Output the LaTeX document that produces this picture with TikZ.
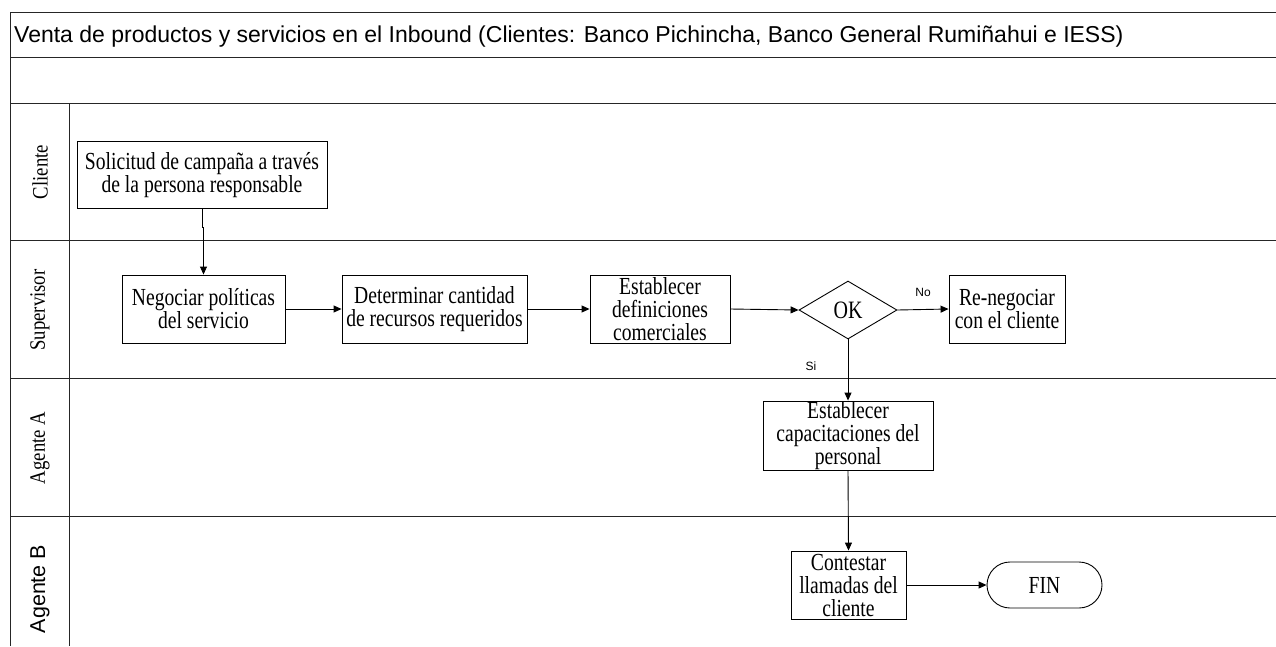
\documentclass[tikz,border=0pt]{standalone}
\usepackage{fontspec}
\setmainfont{Liberation Serif}
\setsansfont{Liberation Sans}
\newfontfamily\boxfont[FakeStretch=0.8]{Liberation Serif}
\newfontfamily\lanefont[FakeStretch=0.85]{Liberation Serif}
\usetikzlibrary{shapes.geometric,arrows.meta}

\begin{document}
\begin{tikzpicture}[x=1pt,y=-1pt,
  lane/.style={line width=1pt,draw=black!85},
  stepbox/.style={draw,line width=0.9pt,align=center,inner sep=0pt,
    font=\boxfont\fontsize{24.5}{23}\selectfont},
  decision/.style={draw,diamond,line width=0.9pt,inner sep=0pt,
    minimum width=98pt,minimum height=58pt,font=\boxfont\fontsize{25}{23}\selectfont},
  terminal/.style={draw,rounded corners=23pt,line width=0.9pt,
    minimum width=115pt,minimum height=46pt,font=\boxfont\fontsize{24.5}{23}\selectfont},
  arr/.style={line width=0.9pt,-{Triangle[length=8pt,width=7pt]}},
  lanelabel/.style={rotate=90,inner sep=0pt,font=\lanefont\fontsize{22}{24}\selectfont},
  small/.style={inner sep=0pt,font=\sffamily\fontsize{12}{14}\selectfont}]
\useasboundingbox (0,0) rectangle (1276,646);

% pool frame and lanes
\draw[lane] (10,646) -- (10,12) -- (1276,12);
\foreach \y in {57,103,240,378,516} \draw[lane] (10,\y) -- (1276,\y);
\draw[lane] (69,103) -- (69,646);

\node[anchor=base west,inner sep=0pt,font=\sffamily\fontsize{23}{26}\selectfont] (title) at (14,42)
  {Venta de productos y servicios en el Inbound (Clientes: Banco Pichincha, Banco General Rumiñahui e IESS)};

\node[lanelabel] (lcli) at (40,172) {Cliente};
\node[lanelabel] (lsup) at (40,310) {Supervisor};
\node[lanelabel] (lagA) at (40,448) {Agente A};
\node[lanelabel,font=\sffamily\fontsize{21.5}{24}\selectfont] (lagB) at (40,589) {Agente B};

% activities
\node[stepbox,minimum width=250pt,minimum height=67pt] (sol) at (202,175)
  {Solicitud de campaña a través\\de la persona responsable};
\node[stepbox,minimum width=163pt,minimum height=68pt] (neg) at (203.5,309)
  {Negociar políticas\\del servicio};
\node[stepbox,minimum width=185pt,minimum height=68pt] (det) at (434.5,309)
  {Determinar cantidad\\de recursos requeridos};
\node[stepbox,minimum width=140pt,minimum height=68pt] (est) at (660,309)
  {Establecer\\definiciones\\comerciales};
\node[decision] (ok) at (848,310) {OK};
\node[stepbox,minimum width=116pt,minimum height=68pt] (ren) at (1007,309)
  {Re-negociar\\con el cliente};
\node[stepbox,minimum width=170pt,minimum height=69pt] (cap) at (848,435.5)
  {Establecer\\capacitaciones del\\personal};
\node[stepbox,minimum width=115pt,minimum height=68pt] (con) at (848.5,585)
  {Contestar\\llamadas del\\cliente};
\node[terminal] (fin) at (1044.5,585) {FIN};

\node[small] (no) at (923,292) {No};
\node[small] (si) at (811,366) {Si};

% flow
\draw[arr] (sol.south) -- ++(0,18) -| (neg.north);
\draw[arr] (neg.east) -- (det.west);
\draw[arr] (det.east) -- (est.west);
\draw[arr] (est.east) -- (ok.west);
\draw[arr] (ok.east) -- (ren.west);
\draw[arr] (ok.south) -- (cap.north);
\draw[arr] (cap.south) -- (con.north);
\draw[arr] (con.east) -- (fin.west);
\end{tikzpicture}
\end{document}
